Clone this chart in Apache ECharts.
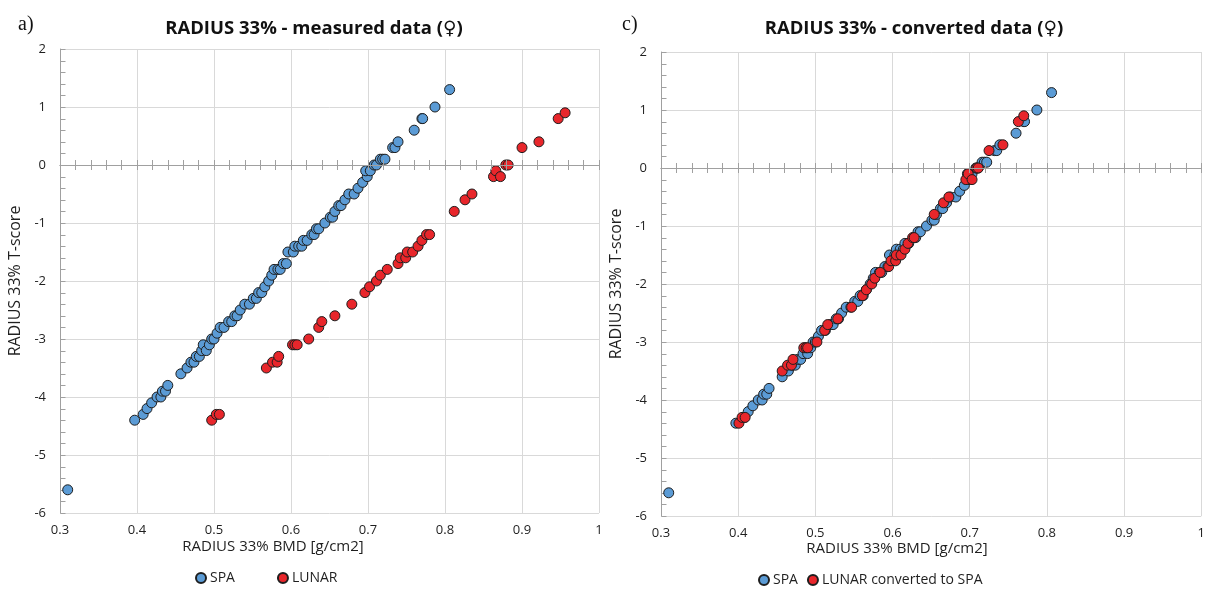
<!DOCTYPE html>
<html>
<head>
<meta charset="utf-8">
<title>RADIUS 33% T-score vs BMD</title>
<script src="https://cdn.jsdelivr.net/npm/echarts@6/dist/echarts.min.js"></script>
<style>
  html, body { margin: 0; padding: 0; background: #ffffff; }
  #chart { width: 1208px; height: 614px; }
</style>
</head>
<body>
<div id="chart"></div>
<script>
// Radius 33% BMD [g/cm2] against T-score, one point per subject.
const spaPoints = [
  [0.310, -5.6],
  [0.397, -4.4], [0.408, -4.3], [0.413, -4.2], [0.419, -4.1], [0.426, -4.0], [0.431, -4.0],
  [0.433, -3.9], [0.437, -3.9], [0.440, -3.8],
  [0.457, -3.6], [0.465, -3.5], [0.470, -3.4], [0.474, -3.4], [0.477, -3.3], [0.481, -3.3],
  [0.484, -3.2], [0.486, -3.1], [0.490, -3.2], [0.494, -3.1], [0.497, -3.0], [0.500, -3.0],
  [0.504, -2.9], [0.508, -2.8], [0.513, -2.8], [0.519, -2.7], [0.523, -2.7], [0.527, -2.6],
  [0.530, -2.6], [0.534, -2.5], [0.540, -2.4], [0.546, -2.4], [0.551, -2.3], [0.555, -2.3],
  [0.558, -2.2], [0.562, -2.2], [0.566, -2.1], [0.571, -2.0], [0.575, -1.9], [0.578, -1.8],
  [0.583, -1.8], [0.586, -1.8], [0.590, -1.7], [0.594, -1.7],
  [0.596, -1.5], [0.603, -1.5], [0.605, -1.4], [0.610, -1.4], [0.614, -1.4], [0.616, -1.3],
  [0.621, -1.3], [0.627, -1.2], [0.630, -1.2], [0.633, -1.1], [0.636, -1.1], [0.644, -1.0],
  [0.651, -0.9], [0.654, -0.9], [0.657, -0.8], [0.662, -0.7], [0.665, -0.7], [0.670, -0.6],
  [0.675, -0.5], [0.682, -0.5], [0.687, -0.4], [0.693, -0.3], [0.699, -0.2], [0.697, -0.1],
  [0.703, -0.1], [0.708, 0.0], [0.711, 0.0], [0.716, 0.1], [0.719, 0.1], [0.722, 0.1],
  [0.732, 0.3], [0.735, 0.3], [0.739, 0.4], [0.760, 0.6], [0.770, 0.8], [0.771, 0.8],
  [0.787, 1.0], [0.806, 1.3]
];

const lunarMeasured = [
  [0.497, -4.4], [0.503, -4.3], [0.507, -4.3],
  [0.568, -3.5], [0.576, -3.4], [0.582, -3.4], [0.584, -3.3],
  [0.602, -3.1], [0.605, -3.1], [0.608, -3.1], [0.623, -3.0], [0.636, -2.8], [0.640, -2.7],
  [0.657, -2.6], [0.679, -2.4], [0.696, -2.2], [0.702, -2.1], [0.711, -2.0], [0.716, -1.9],
  [0.725, -1.8], [0.739, -1.7], [0.742, -1.6], [0.749, -1.6], [0.751, -1.5], [0.758, -1.5],
  [0.765, -1.4], [0.770, -1.3], [0.776, -1.2], [0.780, -1.2],
  [0.812, -0.8], [0.826, -0.6], [0.835, -0.5], [0.863, -0.2], [0.866, -0.1], [0.872, -0.2],
  [0.879, 0.0], [0.882, 0.0], [0.900, 0.3], [0.922, 0.4], [0.947, 0.8], [0.956, 0.9]
];

const lunarConverted = [
  [0.401, -4.4], [0.405, -4.3], [0.409, -4.3],
  [0.457, -3.5], [0.464, -3.4], [0.469, -3.4], [0.471, -3.3],
  [0.485, -3.1], [0.488, -3.1], [0.490, -3.1], [0.502, -3.0], [0.512, -2.8], [0.516, -2.7],
  [0.529, -2.6], [0.547, -2.4], [0.561, -2.2], [0.566, -2.1], [0.573, -2.0], [0.577, -1.9],
  [0.584, -1.8], [0.595, -1.7], [0.598, -1.6], [0.604, -1.6], [0.605, -1.5], [0.611, -1.5],
  [0.616, -1.4], [0.620, -1.3], [0.626, -1.2], [0.628, -1.2],
  [0.654, -0.8], [0.666, -0.6], [0.673, -0.5], [0.695, -0.2], [0.698, -0.1], [0.703, -0.2],
  [0.709, 0.0], [0.711, 0.0], [0.725, 0.3], [0.743, 0.4], [0.763, 0.8], [0.770, 0.9]
];

const panelTitles = ['RADIUS 33% - measured data (\u2640)', 'RADIUS 33% - converted data (\u2640)'];
const panelLetters = ['a)', 'c)'];
const xAxisTitle = 'RADIUS 33% BMD [g/cm2]';
const yAxisTitle = 'RADIUS 33% T-score';
const legendNames = [['SPA', 'LUNAR'], ['SPA', 'LUNAR converted to SPA']];

const FONT = '"Open Sans", "DejaVu Sans", sans-serif';
const SERIF = '"Liberation Serif", "DejaVu Serif", serif';
const TEXT = '#1f1f1f';
const GRID_LINE = '#d9d9d9';
const AXIS_LINE = '#a0a0a0';
const BLUE = '#5b9bd5';
const RED = '#e8262b';

const X_MIN = 0.3, X_MAX = 1, Y_MIN = -6, Y_MAX = 2;

// T-score positions of the short ticks along the left edge (every 0.2)
const yFineTicks = [];
for (let k = 0; k <= 40; k++) yFineTicks.push(Math.round((Y_MIN + k * 0.2) * 10) / 10);

const grids = [
  { left: 60, top: 49, width: 539, height: 464 },
  { left: 661, top: 52, width: 541, height: 464 }
];

const xAxes = [];
const yAxes = [];
grids.forEach((g, i) => {
  // labelled axis along the bottom, carrying the vertical grid lines
  xAxes.push({
    gridIndex: i, type: 'value', min: X_MIN, max: X_MAX, interval: 0.1,
    position: 'bottom',
    axisLine: { show: false, onZero: false },
    axisTick: { show: false },
    axisLabel: { fontFamily: FONT, fontSize: 13, color: TEXT, margin: 11,
      formatter: v => (Math.abs(v - 1) < 1e-9 ? '1' : v.toFixed(1)) },
    splitLine: { show: true, lineStyle: { color: GRID_LINE, width: 1 } }
  });
  // the line through T-score 0, with small ticks crossing it on both sides
  [false, true].forEach(inside => {
    xAxes.push({
      gridIndex: i, type: 'value', min: X_MIN, max: X_MAX, interval: 0.02,
      position: 'bottom', z: 5,
      axisLine: { show: true, onZero: true, onZeroAxisIndex: i, lineStyle: { color: AXIS_LINE, width: 1 } },
      axisTick: { show: true, inside: inside, length: 5, interval: 0, lineStyle: { color: AXIS_LINE, width: 1 } },
      axisLabel: { show: false },
      splitLine: { show: false }
    });
  });
  // T-score axis with horizontal grid lines
  yAxes.push({
    gridIndex: i, type: 'value', min: Y_MIN, max: Y_MAX, interval: 1,
    position: 'left',
    name: yAxisTitle, nameLocation: 'middle', nameGap: 37, nameRotate: 90,
    nameTextStyle: { fontFamily: FONT, fontSize: 16, color: TEXT },
    axisLine: { show: true, onZero: false, lineStyle: { color: AXIS_LINE, width: 1 } },
    axisTick: { show: false },
    axisLabel: { fontFamily: FONT, fontSize: 13, color: TEXT, margin: 14 },
    splitLine: { show: true, lineStyle: { color: GRID_LINE, width: 1 } }
  });
});

function scatter(name, data, grid, color, z) {
  return {
    type: 'scatter', name: name, data: data,
    xAxisIndex: grid * 3, yAxisIndex: grid,
    symbol: 'circle', symbolSize: 10, z: z,
    itemStyle: { color: color, borderColor: '#1e1e1e', borderWidth: 1, opacity: 1 },
    emphasis: { disabled: true }
  };
}

// short tick marks pointing into the plot from the left axis line
function leftTicks(grid) {
  return {
    type: 'custom', name: 'ticks', silent: true, clip: false, z: 1,
    xAxisIndex: grid * 3, yAxisIndex: grid,
    data: yFineTicks.map(v => [X_MIN, v]),
    renderItem: (params, api) => {
      const p = api.coord([api.value(0), api.value(1)]);
      const x = Math.round(p[0]) + 0.5, y = Math.round(p[1]) + 0.5;
      return {
        type: 'line',
        shape: { x1: x, y1: y, x2: x + 5, y2: y },
        style: { stroke: AXIS_LINE, lineWidth: 1 }
      };
    }
  };
}

const chart = echarts.init(document.getElementById('chart'), null, { renderer: 'canvas' });
chart.setOption({
  backgroundColor: '#ffffff',
  animation: false,
  title: [
    { text: panelTitles[0], left: 309, top: 14, textAlign: 'center',
      textStyle: { fontFamily: FONT, fontSize: 18.5, fontWeight: 'bold', color: '#111' } },
    { text: panelTitles[1], left: 909, top: 14, textAlign: 'center',
      textStyle: { fontFamily: FONT, fontSize: 18.5, fontWeight: 'bold', color: '#111' } },
    { text: panelLetters[0], left: 13, top: 10,
      textStyle: { fontFamily: SERIF, fontSize: 20, fontWeight: 'normal', color: '#111' } },
    { text: panelLetters[1], left: 617, top: 10,
      textStyle: { fontFamily: SERIF, fontSize: 20, fontWeight: 'normal', color: '#111' } },
    { text: xAxisTitle, left: 268, top: 534, textAlign: 'center',
      textStyle: { fontFamily: FONT, fontSize: 15, fontWeight: 'normal', color: TEXT } },
    { text: xAxisTitle, left: 892, top: 536, textAlign: 'center',
      textStyle: { fontFamily: FONT, fontSize: 15, fontWeight: 'normal', color: TEXT } }
  ],
  legend: [
    { data: legendNames[0], left: 190, top: 566, icon: 'circle',
      itemWidth: 10, itemHeight: 10, itemGap: 42, selectedMode: false,
      textStyle: { fontFamily: FONT, fontSize: 14, color: TEXT, padding: [0, 0, 0, -1] } },
    { data: legendNames[1], left: 753, top: 568, icon: 'circle',
      itemWidth: 10, itemHeight: 10, itemGap: 9, selectedMode: false,
      textStyle: { fontFamily: FONT, fontSize: 14, color: TEXT, padding: [0, 0, 0, -1] } }
  ],
  grid: grids,
  xAxis: xAxes,
  yAxis: yAxes,
  series: [
    leftTicks(0),
    leftTicks(1),
    scatter('SPA', spaPoints, 0, BLUE, 2),
    scatter('LUNAR', lunarMeasured, 0, RED, 3),
    scatter('SPA', spaPoints, 1, BLUE, 2),
    scatter('LUNAR converted to SPA', lunarConverted, 1, RED, 3)
  ]
});
</script>
</body>
</html>
